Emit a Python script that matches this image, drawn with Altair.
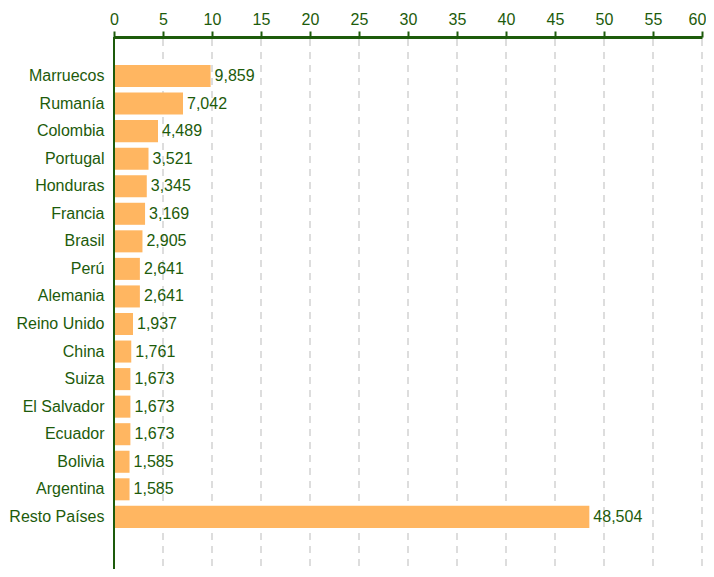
import altair as alt
import pandas as pd

countries = ["Marruecos", "Rumanía", "Colombia", "Portugal", "Honduras", "Francia",
             "Brasil", "Perú", "Alemania", "Reino Unido", "China", "Suiza",
             "El Salvador", "Ecuador", "Bolivia", "Argentina", "Resto Países"]
values = [9.859, 7.042, 4.489, 3.521, 3.345, 3.169, 2.905, 2.641, 2.641, 1.937,
          1.761, 1.673, 1.673, 1.673, 1.585, 1.585, 48.504]
x_ticks = list(range(0, 61, 5))

df = pd.DataFrame({
    "country": countries,
    "value": values,
    "label": [f"{v:.3f}".replace(".", ",") for v in values],
})
grid_df = pd.DataFrame({"tick": x_ticks[1:]})

GREEN = "#1D5B0B"
BAR = "#FFB661"
FONT = "Liberation Sans"
FS = 16
H = 518
FULL = 532

xscale = alt.Scale(domain=[0, 60], nice=False)
yscale = alt.Scale(paddingInner=0.2, paddingOuter=1, align=0.508)

x = alt.X("value:Q", scale=xscale,
          axis=alt.Axis(orient="top", values=x_ticks, title=None, grid=False,
                        domainColor=GREEN, domainWidth=3,
                        tickColor=GREEN, tickWidth=2, tickSize=6,
                        labelColor=GREEN, labelFontSize=FS, labelFont=FONT,
                        labelPadding=4, labelFlush=False,
                        labelOffset=alt.expr("datum.value == 60 ? -5 : 0")))
y = alt.Y("country:N", sort=countries, scale=yscale,
          axis=alt.Axis(title=None, ticks=False, domain=False,
                        labelColor=GREEN, labelFontSize=FS, labelFont=FONT,
                        labelPadding=10, grid=False))

grid = alt.Chart(grid_df).mark_rule(color="#BBBBBB", strokeDash=[7, 6], strokeWidth=1).encode(
    x=alt.X("tick:Q", scale=xscale), y=alt.value(2), y2=alt.value(FULL))
bars = alt.Chart(df).mark_bar(color=BAR).encode(x=x, y=y)
text = alt.Chart(df).mark_text(align="left", baseline="middle", dx=4,
                               color=GREEN, fontSize=FS, font=FONT).encode(
    x="value:Q", y=alt.Y("country:N", sort=countries), text="label:N")
zero = alt.Chart(pd.DataFrame({"z": [0]})).mark_rule(color=GREEN, strokeWidth=2).encode(
    x=alt.X("z:Q", scale=xscale), y=alt.value(0), y2=alt.value(FULL))

chart = (grid + bars + text + zero).properties(
    width=588, height=H,
    autosize=alt.AutoSizeParams(type="none"),
    padding={"left": 106, "top": 29, "right": 4, "bottom": FULL - H},
    background="white",
).configure_view(stroke=None)

chart.save("out.html", embed_options={"renderer": "svg", "actions": False})
